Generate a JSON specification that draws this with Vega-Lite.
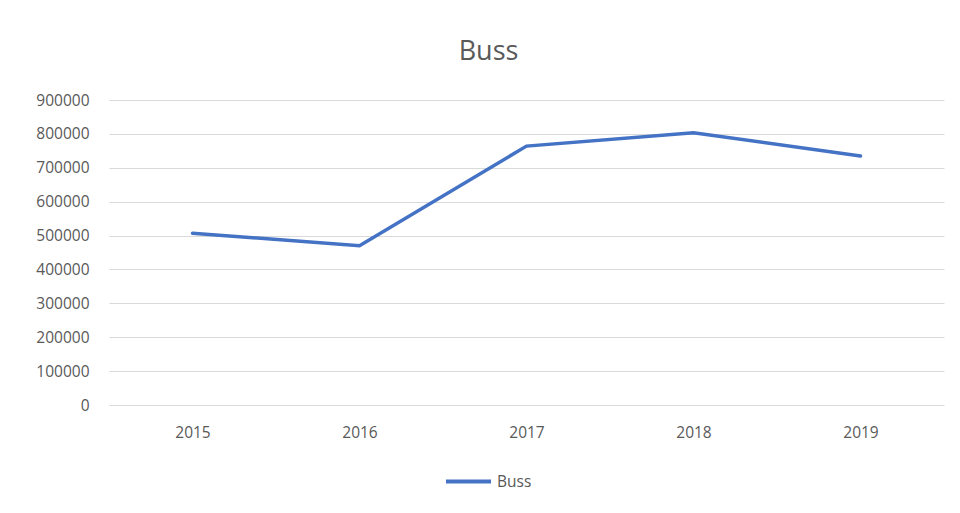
{
  "$schema": "https://vega.github.io/schema/vega-lite/v6.json",
  "autosize": {"type": "none"},
  "width": 835,
  "height": 305,
  "padding": {"left": 109, "top": 100, "right": 16, "bottom": 108},
  "background": "white",
  "title": {
    "text": "Buss",
    "fontSize": 27,
    "font": "Open Sans",
    "fontWeight": "normal",
    "color": "#595959",
    "anchor": "middle",
    "frame": "group",
    "dx": -38,
    "offset": 27
  },
  "config": {
    "view": {"stroke": null},
    "font": "Open Sans"
  },
  "data": {
    "values": [
      {"year": "2015", "series": "Buss", "value": 507000},
      {"year": "2016", "series": "Buss", "value": 470000},
      {"year": "2017", "series": "Buss", "value": 764000},
      {"year": "2018", "series": "Buss", "value": 803000},
      {"year": "2019", "series": "Buss", "value": 735000}
    ]
  },
  "mark": {"type": "line", "strokeWidth": 3.5, "strokeCap": "round"},
  "encoding": {
    "x": {
      "field": "year",
      "type": "ordinal",
      "scale": {"type": "point", "padding": 0.5},
      "axis": {
        "title": null,
        "labelAngle": 0,
        "domain": false,
        "ticks": false,
        "labelPadding": 20,
        "labelFontSize": 15.5,
        "labelColor": "#595959",
        "grid": false
      }
    },
    "y": {
      "field": "value",
      "type": "quantitative",
      "scale": {"domain": [0, 900000], "nice": false},
      "axis": {
        "title": null,
        "values": [0, 100000, 200000, 300000, 400000, 500000, 600000, 700000, 800000, 900000],
        "format": "d",
        "domain": false,
        "ticks": false,
        "labelPadding": 20,
        "labelFontSize": 15.5,
        "labelColor": "#595959",
        "gridColor": "#d9d9d9",
        "gridWidth": 1
      }
    },
    "color": {
      "field": "series",
      "type": "nominal",
      "scale": {"range": ["#4472c4"]},
      "legend": {
        "title": null,
        "orient": "none",
        "legendX": 335,
        "legendY": 357,
        "symbolType": "stroke",
        "symbolStrokeWidth": 4,
        "symbolSize": 2025,
        "labelFontSize": 15.5,
        "labelColor": "#595959"
      }
    }
  }
}
